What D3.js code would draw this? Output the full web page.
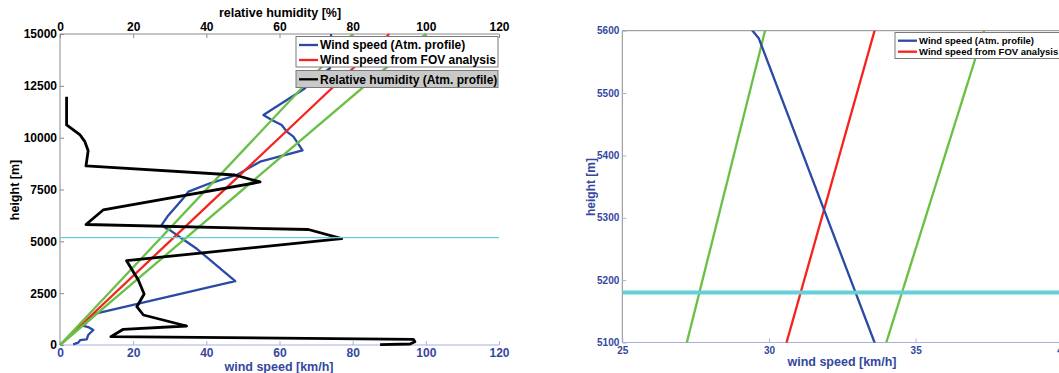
<!DOCTYPE html>
<html>
<head>
<meta charset="utf-8">
<script src="https://cdn.jsdelivr.net/npm/d3@7"></script>
<style>
  html, body { margin: 0; padding: 0; background: #fff; }
  svg { display: block; font-family: "Liberation Sans", Arial, sans-serif; font-weight: bold; }
</style>
</head>
<body>
<svg id="chart" width="1059" height="373"></svg>
<script>
// ---------------- data ----------------
// Wind speed from atmospheric profile (km/h) vs height (m)
const windProfileSpeed  = [3.6, 5.0, 5.5, 7.3, 7.7, 9.1, 7.7, 6.4, 7.6, 10.0, 47.9, 37.4, 33.6, 29.65, 29.0, 27.8, 29.6, 33.7, 35.1, 41.0, 48.3, 54.7, 66.3, 63.8, 62.0, 60.6, 57.9, 55.6, 67.0, 67.4, 73.8, 74.1];
const windProfileHeight = [30, 110, 240, 275, 480, 724, 868, 917, 1150, 1530, 3075, 4640, 5100, 5588, 5625, 5790, 6250, 7077, 7395, 7800, 8200, 8842, 9390, 10048, 10290, 10613, 10854, 11095, 12383, 12542, 13350, 15000];
// Wind speed from FOV analysis and its bounds (km/h at 0 m and 15000 m)
const fovHeights     = [0, 15000];
const fovSpeed       = [0, 90];
const fovLowerSpeed  = [0, 80];
const fovUpperSpeed  = [0, 100];
// Relative humidity (%) vs height (m)
const rhValues  = [87.5, 95.7, 97.0, 96.6, 13.9, 17.3, 34.6, 22.8, 21.0, 23.0, 21.4, 18.2, 77.0, 67.9, 7.1, 11.8, 54.7, 47.8, 7.1, 7.7, 6.8, 5.5, 1.8, 1.8];
const rhHeights = [20, 48, 159, 275, 400, 757, 917, 1447, 1848, 2460, 3136, 4067, 5130, 5570, 5813, 6512, 7863, 8200, 8635, 9373, 9807, 10130, 10613, 11978];
// marker height (m)
const markerHeight = 5180;
// ticks
const heightTicks     = [0, 2500, 5000, 7500, 10000, 12500, 15000];
const speedTicks      = [0, 20, 40, 60, 80, 100, 120];
const rhTicks         = [0, 20, 40, 60, 80, 100, 120];
const zoomHeightTicks = [5100, 5200, 5300, 5400, 5500, 5600];
const zoomSpeedTicks  = [25, 30, 35, 40];
const legendMain  = ["Wind speed (Atm. profile)", "Wind speed from FOV analysis"];
const legendRH    = ["Relative humidity (Atm. profile)"];

// ---------------- style ----------------
const C = {
  blue: "#2b4aa6", red: "#f5221e", green: "#6abf45", black: "#000000",
  cyan: "#66d0d8", axisGray: "#8a8a8a", axisBlue: "#aab0dc", labelBlue: "#3447a0"
};

const svg = d3.select("#chart");

function pts(xs, ys) { return xs.map((x, i) => [x, ys[i]]); }

// ================= LEFT CHART =================
const L = { x0: 60, x1: 499, y0: 345, y1: 34 };
const xL = d3.scaleLinear().domain([0, 120]).range([L.x0, L.x1]);
const rhL = d3.scaleLinear().domain([0, 120]).range([L.x0, L.x1]);
const yL = d3.scaleLinear().domain([0, 15000]).range([L.y0, L.y1]);

const gL = svg.append("g");

// axes lines
gL.append("line").attr("x1", L.x0).attr("x2", L.x1).attr("y1", L.y1).attr("y2", L.y1)
  .attr("stroke", C.axisGray).attr("stroke-width", 1);
gL.append("line").attr("x1", L.x0).attr("x2", L.x0).attr("y1", L.y1).attr("y2", L.y0)
  .attr("stroke", C.axisGray).attr("stroke-width", 1);
gL.append("line").attr("x1", L.x0).attr("x2", L.x1).attr("y1", L.y0).attr("y2", L.y0)
  .attr("stroke", C.axisBlue).attr("stroke-width", 1.2);

// bottom axis (wind speed)
const axB = d3.axisBottom(xL).tickValues(speedTicks).tickSizeInner(-4).tickSizeOuter(0).tickPadding(5).tickFormat(d3.format("d"));
const gB = gL.append("g").attr("transform", `translate(0,${L.y0})`).call(axB);
gB.select(".domain").remove();
gB.selectAll("line").attr("stroke", C.axisBlue);
gB.selectAll("text").attr("fill", C.labelBlue).style("font-size", "12px").style("font-weight", "bold")
  .attr("dy", "0.55em");

// top axis (relative humidity)
const axT = d3.axisTop(rhL).tickValues(rhTicks).tickSizeInner(-4).tickSizeOuter(0).tickPadding(3).tickFormat(d3.format("d"));
const gT = gL.append("g").attr("transform", `translate(0,${L.y1})`).call(axT);
gT.select(".domain").remove();
gT.selectAll("line").attr("stroke", C.axisGray);
gT.selectAll("text").attr("fill", "#000").style("font-size", "12px").style("font-weight", "bold");

// left axis (height)
const axY = d3.axisLeft(yL).tickValues(heightTicks).tickSizeInner(-4).tickSizeOuter(0).tickPadding(3).tickFormat(d3.format("d"));
const gY = gL.append("g").attr("transform", `translate(${L.x0},0)`).call(axY);
gY.select(".domain").remove();
gY.selectAll("line").attr("stroke", C.axisGray);
gY.selectAll("text").attr("fill", "#000").style("font-size", "12px").style("font-weight", "bold");

// axis titles
gL.append("text").attr("x", 280).attr("y", 17).attr("text-anchor", "middle")
  .style("font-size", "12.5px").attr("fill", "#000").text("relative humidity [%]");
gL.append("text").attr("x", 279).attr("y", 371).attr("text-anchor", "middle")
  .style("font-size", "12.5px").attr("fill", C.labelBlue).text("wind speed [km/h]");
gL.append("text").attr("transform", "translate(19,190) rotate(-90)").attr("text-anchor", "middle")
  .style("font-size", "12.5px").attr("fill", "#000").text("height [m]");

// lines
const lineL = d3.line().x(d => xL(d[0])).y(d => yL(d[1]));
const lineRH = d3.line().x(d => rhL(d[0])).y(d => yL(d[1]));

const drawL = (data, color, w, gen) => gL.append("path").datum(data).attr("d", gen)
  .attr("fill", "none").attr("stroke", color).attr("stroke-width", w)
  .attr("stroke-linejoin", "round").attr("stroke-linecap", "butt");

drawL(pts(windProfileSpeed, windProfileHeight), C.blue, 2.3, lineL);
drawL(pts(fovSpeed, fovHeights), C.red, 2.3, lineL);
drawL(pts(fovLowerSpeed, fovHeights), C.green, 2.3, lineL);
drawL(pts(fovUpperSpeed, fovHeights), C.green, 2.3, lineL);
drawL(pts(rhValues, rhHeights), C.black, 2.8, lineRH);

// marker line
gL.append("line").attr("x1", xL(0)).attr("x2", xL(120)).attr("y1", yL(markerHeight)).attr("y2", yL(markerHeight))
  .attr("stroke", C.cyan).attr("stroke-width", 1.3);

// legends
function legend(g, x, y, w, h, items, colors, fill, fontSize, rowH, firstRowY, sampleLen) {
  g.append("rect").attr("x", x).attr("y", y).attr("width", w).attr("height", h)
    .attr("fill", fill).attr("stroke", "#7a7a7a").attr("stroke-width", 1);
  items.forEach((t, i) => {
    const cy = firstRowY + i * rowH;
    g.append("line").attr("x1", x + 3).attr("x2", x + 3 + sampleLen).attr("y1", cy).attr("y2", cy)
      .attr("stroke", colors[i]).attr("stroke-width", 2.3);
    g.append("text").attr("x", x + 5 + sampleLen).attr("y", cy).attr("dy", "0.36em")
      .style("font-size", fontSize + "px").attr("fill", "#000").text(t);
  });
}
legend(gL, 296, 36.5, 202, 30.5, legendMain, [C.blue, C.red], "#fff", 12, 15, 45, 19);
legend(gL, 296, 70.5, 202, 17, legendRH, [C.black], "#c9c9c9", 12, 15, 79.3, 19);

// ================= RIGHT CHART =================
const R = { x0: 622.3, x1: 1062.3, y0: 342.5, y1: 30.7 };
const xR = d3.scaleLinear().domain([25, 40]).range([R.x0, R.x1]);
const yR = d3.scaleLinear().domain([5100, 5600]).range([R.y0, R.y1]);
const gR = svg.append("g");

svg.append("defs").append("clipPath").attr("id", "clipR").append("rect")
  .attr("x", R.x0).attr("y", R.y1).attr("width", R.x1 - R.x0).attr("height", R.y0 - R.y1);

gR.append("line").attr("x1", R.x0).attr("x2", R.x1).attr("y1", R.y1).attr("y2", R.y1)
  .attr("stroke", C.axisGray).attr("stroke-width", 1);
gR.append("line").attr("x1", R.x0).attr("x2", R.x0).attr("y1", R.y1).attr("y2", R.y0)
  .attr("stroke", C.axisGray).attr("stroke-width", 1);
gR.append("line").attr("x1", R.x0).attr("x2", R.x1).attr("y1", R.y0).attr("y2", R.y0)
  .attr("stroke", C.axisBlue).attr("stroke-width", 1.2);

const axRB = d3.axisBottom(xR).tickValues(zoomSpeedTicks).tickSizeInner(-4).tickSizeOuter(0).tickPadding(4).tickFormat(d3.format("d"));
const gRB = gR.append("g").attr("transform", `translate(0,${R.y0})`).call(axRB);
gRB.select(".domain").remove();
gRB.selectAll("line").attr("stroke", C.axisBlue);
gRB.selectAll("text").attr("fill", C.labelBlue).style("font-size", "10px").style("font-weight", "bold");

const axRY = d3.axisLeft(yR).tickValues(zoomHeightTicks).tickSizeInner(-4).tickSizeOuter(0).tickPadding(3).tickFormat(d3.format("d"));
const gRY = gR.append("g").attr("transform", `translate(${R.x0},0)`).call(axRY);
gRY.select(".domain").remove();
gRY.selectAll("line").attr("stroke", C.axisBlue);
gRY.selectAll("text").attr("fill", C.labelBlue).style("font-size", "10px").style("font-weight", "bold");

gR.append("text").attr("x", 842).attr("y", 366).attr("text-anchor", "middle")
  .style("font-size", "12.5px").attr("fill", C.labelBlue).text("wind speed [km/h]");
gR.append("text").attr("transform", "translate(595,187) rotate(-90)").attr("text-anchor", "middle")
  .style("font-size", "12px").attr("fill", C.labelBlue).text("height [m]");

const gRc = gR.append("g").attr("clip-path", "url(#clipR)");
const lineR = d3.line().x(d => xR(d[0])).y(d => yR(d[1]));
const drawR = (data, color, w) => gRc.append("path").datum(data).attr("d", lineR)
  .attr("fill", "none").attr("stroke", color).attr("stroke-width", w).attr("stroke-linejoin", "round");

drawR(pts(fovLowerSpeed, fovHeights), C.green, 2.3);
drawR(pts(fovUpperSpeed, fovHeights), C.green, 2.3);
drawR(pts(fovSpeed, fovHeights), C.red, 2.3);
drawR(pts(windProfileSpeed, windProfileHeight), C.blue, 2.3);
gRc.append("line").attr("x1", xR(25)).attr("x2", xR(40)).attr("y1", yR(markerHeight)).attr("y2", yR(markerHeight))
  .attr("stroke", C.cyan).attr("stroke-width", 4);

legend(gR, 895, 32.5, 180, 26, legendMain, [C.blue, C.red], "#fff", 9.5, 11, 40.7, 19);
</script>
</body>
</html>
